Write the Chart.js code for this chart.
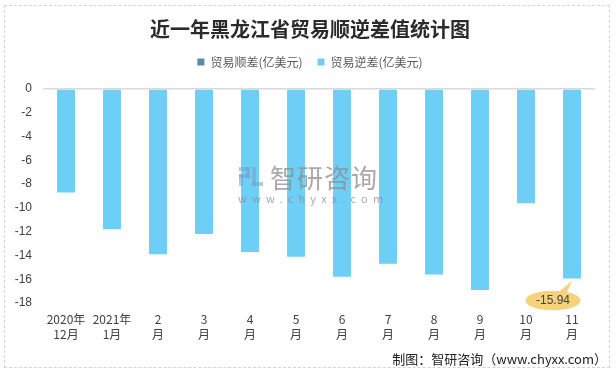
<!DOCTYPE html>
<html>
<head>
<meta charset="utf-8">
<script src="https://cdn.jsdelivr.net/npm/chart.js@4"></script>
<style>
  html, body { margin: 0; padding: 0; background: #fff; }
  #wrap { position: relative; width: 616px; height: 371px; }
  #frame { position: absolute; left: 4px; top: 5px; width: 604px; height: 361px; border: 1px dashed #d4d4d4; }
  #mark { position: absolute; left: 238px; top: 162px; color: rgba(140,140,140,0.75); font-family: "Noto Sans CJK SC", sans-serif; pointer-events: none; }
  #mark .big { font-size: 26px; line-height: 30px; padding-left: 32px; letter-spacing: 1px; }
  #mark .small { font-size: 11px; line-height: 12px; letter-spacing: 5.2px; }
  #mark .logo { position: absolute; left: 1px; top: 5px; width: 24px; height: 19px; }
  #mark .logo i { position: absolute; background: rgba(120,160,200,0.55); }
  #credit { position: absolute; right: 9px; top: 349px; font-family: "Noto Sans CJK SC", sans-serif; font-size: 13px; color: #222; }
</style>
</head>
<body>
<div id="wrap">
  <div id="frame"></div>
  <canvas id="tradeChart" width="616" height="371"></canvas>
  <div id="mark">
    <div class="logo"><i style="left:0;top:0;width:11px;height:4px"></i><i style="left:7px;top:0;width:4px;height:11px"></i><i style="left:0;top:7px;width:11px;height:4px"></i><i style="left:0;top:7px;width:4px;height:12px"></i><i style="left:13px;top:0;width:4px;height:19px"></i><i style="left:13px;top:15px;width:11px;height:4px"></i></div>
    <div class="big">智研咨询</div><div class="small">www.chyxx.com</div>
  </div>
  <div id="credit">制图：智研咨询（www.chyxx.com）</div>
</div>
<script>
const months = [['2020年', '12月'], ['2021年', '1月'], ['2', '月'], ['3', '月'], ['4', '月'], ['5', '月'],
                ['6', '月'], ['7', '月'], ['8', '月'], ['9', '月'], ['10', '月'], ['11', '月']];
const surplus = [null, null, null, null, null, null, null, null, null, null, null, null];
const deficit = [-8.7, -11.8, -13.9, -12.2, -13.7, -14.1, -15.8, -14.7, -15.6, -16.9, -9.6, -15.94];
const yTicks = [0, -2, -4, -6, -8, -10, -12, -14, -16, -18];

// extra room under the legend, and centre title + legend on the whole picture
const headerPlugin = {
    id: 'header',
    beforeInit(chart) {
        const fit = chart.legend.fit;
        chart.legend.fit = function () {
            fit.bind(chart.legend)();
            this.height += 11;
        };
    },
    afterLayout(chart) {
        [chart.titleBlock, chart.legend].forEach(function (box) {
            if (!box) return;
            box.left = 4;
            box.right = 616;
        });
    }
};

// yellow callout on the last bar
const calloutPlugin = {
    id: 'callout',
    afterDatasetsDraw(chart) {
        const meta = chart.getDatasetMeta(1);
        const i = deficit.length - 1;
        const bar = meta.data[i];
        if (!bar) return;
        const ctx = chart.ctx;
        const cx = bar.x - 19, cy = bar.y + 22;
        ctx.save();
        ctx.fillStyle = '#f5d27c';
        ctx.beginPath();
        ctx.moveTo(bar.x - 16, cy - 6);
        ctx.lineTo(bar.x + 0, bar.y + 2);
        ctx.lineTo(bar.x - 5, cy - 8);
        ctx.closePath();
        ctx.fill();
        ctx.beginPath();
        ctx.ellipse(cx, cy, 27.5, 9.8, 0, 0, Math.PI * 2);
        ctx.fill();
        ctx.fillStyle = '#404040';
        ctx.font = '12px "Liberation Sans", sans-serif';
        ctx.textAlign = 'center';
        ctx.textBaseline = 'middle';
        ctx.fillText(deficit[i].toFixed(2), cx, cy);
        ctx.restore();
    }
};

new Chart(document.getElementById('tradeChart').getContext('2d'), {
    type: 'bar',
    data: {
        labels: months,
        datasets: [
            {
                label: '贸易顺差(亿美元)',
                data: surplus,
                backgroundColor: '#5b8ba5',
                grouped: false,
                barPercentage: 0.39,
                categoryPercentage: 1
            },
            {
                label: '贸易逆差(亿美元)',
                data: deficit,
                backgroundColor: '#6dcff6',
                grouped: false,
                barPercentage: 0.39,
                categoryPercentage: 1
            }
        ]
    },
    options: {
        responsive: false,
        animation: false,
        layout: { padding: { left: 0, right: 21, top: 0, bottom: 23 } },
        plugins: {
            title: {
                display: true,
                text: '近一年黑龙江省贸易顺逆差值统计图',
                color: '#2b2b2b',
                font: { family: '"Noto Sans CJK SC", sans-serif', size: 20, weight: 'bold', lineHeight: 1.2 },
                padding: { top: 17, bottom: 0 }
            },
            legend: {
                display: true,
                labels: {
                    boxWidth: 7,
                    boxHeight: 7,
                    padding: 15,
                    color: '#595959',
                    font: { family: '"Noto Sans CJK SC", sans-serif', size: 12 }
                }
            },
            tooltip: { enabled: false }
        },
        scales: {
            x: {
                grid: { display: false },
                border: { display: false },
                ticks: {
                    color: '#404040',
                    padding: 1,
                    maxRotation: 0,
                    autoSkip: false,
                    font: { family: '"Noto Sans CJK SC", sans-serif', size: 12, lineHeight: 1.25 }
                },
                afterFit: function (scale) { scale.height = 45; }
            },
            y: {
                min: -18,
                max: 0,
                border: { display: false },
                grid: {
                    drawTicks: false,
                    color: function (c) { return c.tick && c.tick.value === 0 ? '#d9d9d9' : 'rgba(0,0,0,0)'; },
                    lineWidth: 1.5
                },
                afterBuildTicks: function (scale) { scale.ticks = yTicks.map(v => ({ value: v })); },
                ticks: {
                    color: '#404040',
                    padding: 11,
                    font: { family: '"Liberation Sans", sans-serif', size: 12 }
                },
                afterFit: function (scale) { scale.width = 43; }
            }
        }
    },
    plugins: [headerPlugin, calloutPlugin]
});
</script>
</body>
</html>
